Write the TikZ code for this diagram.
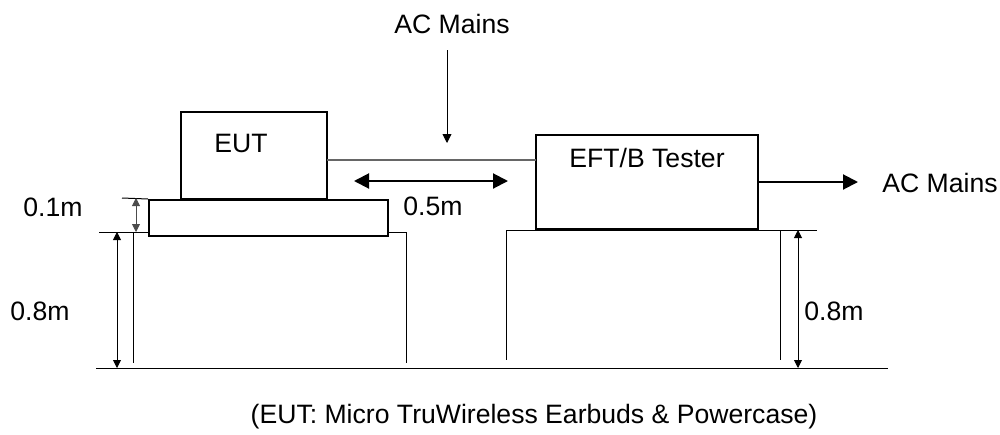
\documentclass[tikz,border=0pt]{standalone}
\usepackage{fontspec}
\setmainfont{Liberation Sans}
\usetikzlibrary{arrows.meta,positioning}
\tikzset{
  setup-box/.style={draw=black, fill=white, line width=0.65pt, inner sep=0pt},
  setup-text/.style={font=\fontsize{13.3}{15}\selectfont, inner sep=0pt, anchor=base},
  table-line/.style={draw=black, line width=0.5pt},
  dim-arrow/.style={{Triangle[length=4pt,width=4pt]}-{Triangle[length=4pt,width=4pt]}, line width=0.45pt},
  feed-arrow/.style={-{Triangle[length=4.5pt,width=4.5pt]}, line width=0.45pt},
  power-arrow/.style={-{Triangle[length=7.5pt,width=7.5pt]}, line width=1pt}
}

\begin{document}
\begin{tikzpicture}[x=0.5pt, y=-0.5pt]
  \useasboundingbox (0,0) rectangle (1000,434);

  % Tables and ground
  \draw[table-line] (99,232) -- (406,232);
  \draw[table-line] (133,232) -- (133,363);
  \draw[table-line] (406,232) -- (406,363);
  \draw[table-line] (506,230) -- (817,230);
  \draw[table-line] (506,230) -- (506,360);
  \draw[table-line] (780,230) -- (780,360);
  \draw[table-line] (96,368) -- (888,368);

  % Equipment
  \node[setup-box, line width=1pt, minimum width=119.5pt, minimum height=18pt] (support) at (268.5,218) {};
  \node[setup-box, minimum width=73pt, minimum height=43.5pt] (eut) at (254,155.5) {};
  \draw[line width=1.3pt] (eut.south west) -- (eut.south east);
  \node[setup-box, minimum width=111pt, minimum height=47pt] (tester) at (647,182) {};
  \node[setup-text] (eut-label) at (241,152) {EUT};
  \node[setup-text] (tester-label) at (647,167) {EFT/B Tester};

  % Cable and mains
  \coordinate (cable-in) at (327,160);
  \coordinate (cable-out) at (536,160);
  \draw[black!60, line width=0.6pt] (cable-in) -- (cable-out);
  \node[setup-text] (mains-top) at (452,33) {AC Mains};
  \coordinate (feed-start) at (447,50);
  \coordinate (feed-end) at (447,143);
  \draw[feed-arrow] (feed-start) -- (feed-end);
  \coordinate (out-start) at (tester.east);
  \coordinate (out-end) at (858,182);
  \draw[power-arrow] (out-start) -- (out-end);
  \node[setup-text] (mains-right) at (940,192) {AC Mains};

  % Distance between EUT and tester
  \coordinate (gap-left) at (354,181);
  \coordinate (gap-right) at (508,181);
  \draw[power-arrow, {Triangle[length=7.5pt,width=7.5pt]}-{Triangle[length=7.5pt,width=7.5pt]}] (gap-left) -- (gap-right);
  \node[setup-text] (gap-label) at (433,215) {0.5m};

  % Heights
  \draw[table-line] (122,198) -- (support.north west);
  \coordinate (support-top) at (136,198);
  \coordinate (support-bottom) at (136,232);
  \draw[dim-arrow, black!70] (support-top) -- (support-bottom);
  \node[setup-text] (support-label) at (53,216) {0.1m};
  \coordinate (left-top) at (117,232);
  \coordinate (left-bottom) at (117,368);
  \draw[dim-arrow] (left-top) -- (left-bottom);
  \node[setup-text] (left-label) at (40,320) {0.8m};
  \coordinate (right-top) at (798,230);
  \coordinate (right-bottom) at (798,368);
  \draw[dim-arrow] (right-top) -- (right-bottom);
  \node[setup-text] (right-label) at (834,320) {0.8m};

  % Caption
  \node[setup-text] (caption) at (534,423) {(EUT: Micro TruWireless Earbuds \& Powercase)};
\end{tikzpicture}
\end{document}
